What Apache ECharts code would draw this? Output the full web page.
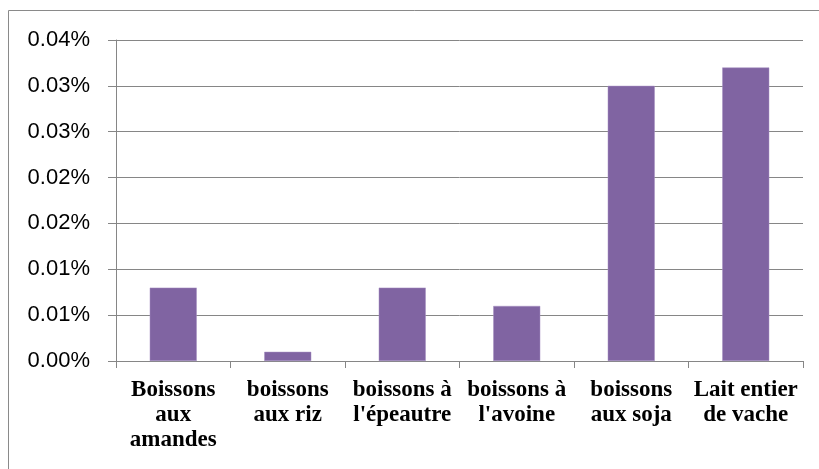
<!DOCTYPE html>
<html>
<head>
<meta charset="utf-8">
<script src="https://cdn.jsdelivr.net/npm/echarts@6/dist/echarts.min.js"></script>
<style>
  html, body { margin: 0; padding: 0; background: #fff; }
  #chart { width: 819px; height: 469px; }
</style>
</head>
<body>
<div id="chart"></div>
<script>
// catégories et valeurs (en %)
var categories = ['Boissons aux amandes', 'boissons aux riz', "boissons à l'épeautre", "boissons à l'avoine", 'boissons aux soja', 'Lait entier de vache'];
var categoryLabels = ['Boissons\naux\namandes', 'boissons\naux riz', "boissons à\nl'épeautre", "boissons à\nl'avoine", 'boissons\naux soja', 'Lait entier\nde vache'];
var values = [0.008, 0.001, 0.008, 0.006, 0.030, 0.032];
var yTickLabels = ['0.00%', '0.01%', '0.01%', '0.02%', '0.02%', '0.03%', '0.03%', '0.04%'];

var chart = echarts.init(document.getElementById('chart'));
chart.setOption({
  animation: false,
  backgroundColor: '#fff',
  graphic: [{
    type: 'rect',
    shape: { x: 8.5, y: 10.5, width: 900, height: 600 },
    style: { fill: 'none', stroke: '#8a8a8a', lineWidth: 1 },
    silent: true
  }],
  grid: { left: 116, right: 16, top: 40, bottom: 108 },
  xAxis: {
    type: 'category',
    data: categories,
    axisLine: { lineStyle: { color: '#868686', width: 1 } },
    axisTick: { show: true, length: 7, lineStyle: { color: '#868686' } },
    axisLabel: {
      interval: 0,
      margin: 17,
      color: '#000',
      fontFamily: "'Liberation Serif', 'Times New Roman', serif",
      fontWeight: 'bold',
      fontSize: 23,
      lineHeight: 25,
      formatter: function (v, i) { return categoryLabels[i]; }
    }
  },
  yAxis: {
    type: 'value',
    min: 0,
    max: 0.035,
    interval: 0.005,
    axisLine: { show: true, lineStyle: { color: '#868686', width: 1 } },
    axisTick: { show: true, length: 8, lineStyle: { color: '#868686' } },
    splitLine: { lineStyle: { color: '#868686', width: 1 } },
    axisLabel: {
      margin: 26,
      color: '#000',
      fontFamily: "'Liberation Sans', sans-serif",
      fontSize: 22,
      formatter: function (v, i) { return yTickLabels[i]; }
    }
  },
  series: [{
    type: 'bar',
    data: values,
    barWidth: 47,
    itemStyle: { color: '#8064A2', borderColor: '#a58fc0', borderWidth: 0.5 }
  }]
});
</script>
</body>
</html>
